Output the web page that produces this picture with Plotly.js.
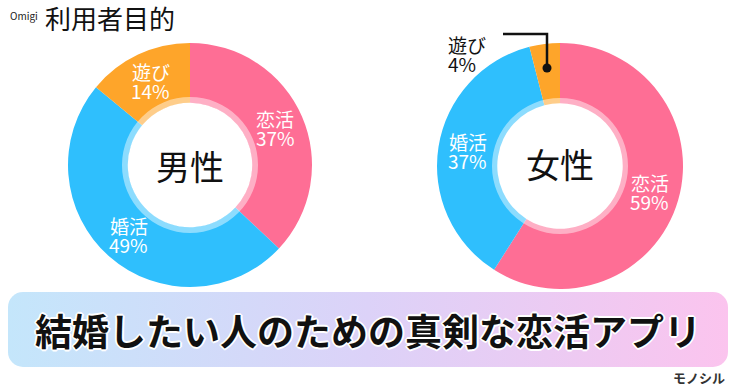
<!DOCTYPE html>
<html><head><meta charset="utf-8">
<script src="https://cdn.plot.ly/plotly-3.0.1.min.js"></script>
<style>html,body{margin:0;padding:0;background:#fff;}#chart{width:737px;height:386px;}</style>
</head><body><div id="chart"></div>
<script>
const categories = ['恋活', '婚活', '遊び'];
const maleValues = [37, 49, 14];
const femaleValues = [59, 37, 4];
const groupLabels = ['男性', '女性'];
const chartTitle = '利用者目的';
const brandLabel = 'Omigi';
const bannerText = '結婚したい人のための真剣な恋活アプリ';
const sourceLabel = 'モノシル';

const colors = ['#FE6E95', '#2FBFFD', '#FEA52A'];
const FONT = '"Noto Sans CJK JP", "Noto Sans", sans-serif';
const W = 737, H = 386;
const px = x => x / W;
const py = y => 1 - y / H;

function donut(values, g) {
  return {
    type: 'pie', values: values, labels: categories, sort: false,
    direction: 'clockwise', rotation: 0, hole: 0.51,
    marker: {colors: colors, line: {width: 0}},
    textposition: 'none',
    domain: {x: [px(g.cx - g.r), px(g.cx + g.r)], y: [py(g.cy + g.r), py(g.cy - g.r)]},
    hoverinfo: 'none', showlegend: false
  };
}
function ring(g, r, hole) {
  return {
    type: 'pie', values: [1], labels: ['ring'], sort: false, hole: hole,
    marker: {colors: ['rgba(255,255,255,0.45)'], line: {width: 0}},
    textposition: 'none', hoverinfo: 'none', showlegend: false,
    domain: {x: [px(g.cx - r), px(g.cx + r)], y: [py(g.cy + r), py(g.cy - r)]}
  };
}

const L = {cx: 190, cy: 165, r: 122};
const R = {cx: 560, cy: 166, r: 123};

function twoLine(label, pct, x, y, color, anchor) {
  const base = {xref: 'paper', yref: 'paper', xanchor: anchor, yanchor: 'middle', showarrow: false,
    font: {family: FONT, size: 19, color: color}};
  return [
    Object.assign({}, base, {text: label, x: px(x), y: py(y - 9.5)}),
    Object.assign({}, base, {text: pct, x: px(x), y: py(y + 9.5)})
  ];
}

// slice labels placed at each slice's mid-angle (clockwise from 12 o'clock)
function sliceLabels(values, g, skip) {
  const total = values.reduce((a, b) => a + b, 0);
  let cum = 0;
  let out = [];
  values.forEach((v, i) => {
    const mid = (cum + v / 2) / total * 2 * Math.PI;
    cum += v;
    if (skip.includes(i)) return;
    const rr = g.r * 0.76;
    const x = g.cx + rr * Math.sin(mid);
    const y = g.cy - rr * Math.cos(mid);
    out = out.concat(twoLine(categories[i], v + '%', x, y, '#ffffff', 'center'));
  });
  return out;
}

const data = [
  donut(maleValues, L),
  ring(L, 68, 0.91),
  donut(femaleValues, R),
  ring(R, 68, 0.91)
];

const svg = '<svg xmlns="http://www.w3.org/2000/svg" width="720" height="75" viewBox="0 0 720 75">' +
  '<defs><linearGradient id="g" x1="0" y1="0" x2="1" y2="0">' +
  '<stop offset="0" stop-color="#C4E6FB"/><stop offset="0.5" stop-color="#DCD2F8"/>' +
  '<stop offset="1" stop-color="#FBC4EE"/></linearGradient></defs>' +
  '<rect x="0" y="0" width="720" height="75" rx="15" ry="15" fill="url(#g)"/></svg>';
const svgUri = 'data:image/svg+xml;charset=utf-8,' + encodeURIComponent(svg);

const outline = '1px 1px 0 #fff, -1px -1px 0 #fff, 1px -1px 0 #fff, -1px 1px 0 #fff, 2px 0 0 #fff, -2px 0 0 #fff, 0 2px 0 #fff, 0 -2px 0 #fff';

const annotations = [
  {text: brandLabel, x: px(8), y: py(15), xref: 'paper', yref: 'paper', xanchor: 'left', yanchor: 'middle',
   showarrow: false, font: {family: FONT, size: 10, color: '#222'}},
  {text: chartTitle, x: px(43), y: py(17), xref: 'paper', yref: 'paper', xanchor: 'left', yanchor: 'middle',
   showarrow: false, font: {family: FONT, size: 26, color: '#111'}},
  {text: groupLabels[0], x: px(L.cx), y: py(L.cy), xref: 'paper', yref: 'paper', xanchor: 'center', yanchor: 'middle',
   showarrow: false, font: {family: FONT, size: 34, color: '#111'}},
  {text: groupLabels[1], x: px(R.cx), y: py(R.cy - 2), xref: 'paper', yref: 'paper', xanchor: 'center', yanchor: 'middle',
   showarrow: false, font: {family: FONT, size: 34, color: '#111'}},
  {text: bannerText, x: px(368), y: py(330), xref: 'paper', yref: 'paper', xanchor: 'center', yanchor: 'middle',
   showarrow: false, font: {family: FONT, size: 37, color: '#111', weight: 'bold', shadow: outline}},
  {text: sourceLabel, x: px(727), y: py(377), xref: 'paper', yref: 'paper', xanchor: 'right', yanchor: 'middle',
   showarrow: false, font: {family: FONT, size: 13, color: '#333', weight: 'bold'}}
].concat(
  twoLine(categories[2], femaleValues[2] + '%', 446, 54, '#111', 'left'),
  sliceLabels(maleValues, L, []),
  sliceLabels(femaleValues, R, [2])
);

const layout = {
  width: W, height: H, margin: {l: 0, r: 0, t: 0, b: 0},
  paper_bgcolor: '#ffffff', plot_bgcolor: '#ffffff',
  images: [{source: svgUri, xref: 'paper', yref: 'paper', x: px(8), y: py(292),
    sizex: 720 / W, sizey: 75 / H, sizing: 'stretch', xanchor: 'left', yanchor: 'top', layer: 'below'}],
  shapes: [
    {type: 'path', xref: 'paper', yref: 'paper',
     path: `M ${px(503)},${py(34)} L ${px(547)},${py(34)} L ${px(547)},${py(68)}`,
     line: {color: '#111', width: 2.5}},
    {type: 'circle', xref: 'paper', yref: 'paper', x0: px(542.5), x1: px(551.5), y0: py(72.5), y1: py(63.5),
     fillcolor: '#111', line: {width: 0}}
  ],
  annotations: annotations
};

Plotly.newPlot('chart', data, layout, {displayModeBar: false, staticPlot: true});
</script></body></html>
